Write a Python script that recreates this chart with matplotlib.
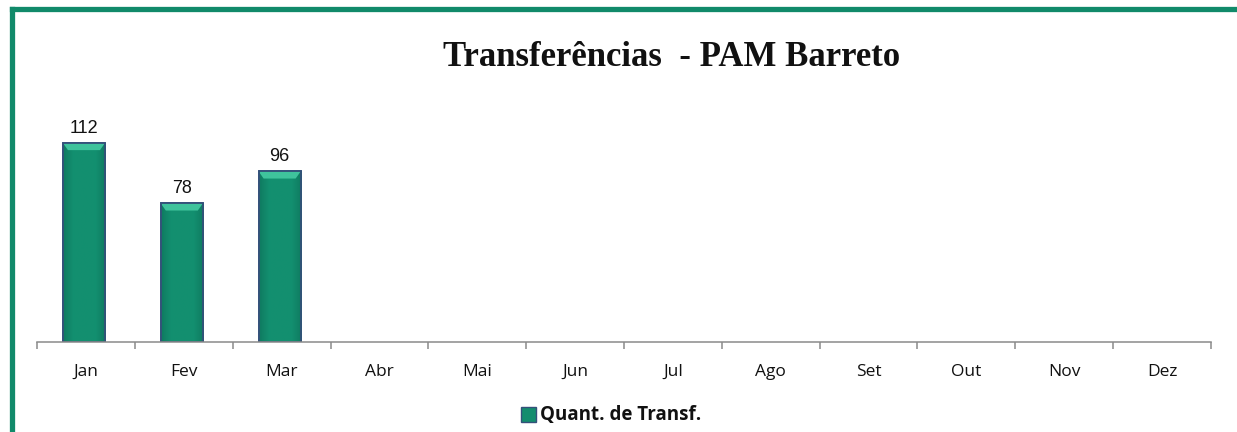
import matplotlib
matplotlib.use("Agg")
import matplotlib.pyplot as plt
import numpy as np
from matplotlib.lines import Line2D
from matplotlib.patches import Rectangle, Polygon
from matplotlib.colors import LinearSegmentedColormap

months = ["Jan", "Fev", "Mar", "Abr", "Mai", "Jun", "Jul", "Ago", "Set", "Out", "Nov", "Dez"]
values = [112, 78, 96]
series_name = "Quant. de Transf."
title = "Transferências  - PAM Barreto"

W, H = 1237, 432
fig = plt.figure(figsize=(W / 100, H / 100), dpi=100)
fig.patch.set_facecolor("white")

# frame (left and top green border)
green = "#118a6a"
fig.add_artist(Line2D([11.5 / W, 11.5 / W], [0, 1 - 8.5 / H], transform=fig.transFigure,
                      color=green, lw=3.8, solid_capstyle="projecting"))
fig.add_artist(Line2D([11.5 / W, 1], [1 - 8.5 / H, 1 - 8.5 / H], transform=fig.transFigure,
                      color=green, lw=3.8, solid_capstyle="projecting"))

ax = fig.add_axes([37 / W, 1 - 342 / H, (1211 - 37) / W, (342 - 128.8) / H])
ax.set_xlim(-0.5, 11.5)
ax.set_ylim(0, 120)

x = np.arange(len(values))
bars = ax.bar(x - 0.02, values, width=0.43, color="#128c6d", edgecolor="#34507a",
              linewidth=1.2, zorder=2, label=series_name)

grad = np.linspace(0, 1, 256).reshape(1, -1)
cmap = LinearSegmentedColormap.from_list("g", ["#0f7a60", "#139070", "#138f6f", "#139070", "#0f7a60"])
for b in bars:
    bx, by, bw, bh = b.get_x(), b.get_y(), b.get_width(), b.get_height()
    im = ax.imshow(grad, aspect="auto", cmap=cmap, extent=[bx, bx + bw, by, by + bh], zorder=2.1)
    im.set_clip_path(b)
    top = by + bh
    cap = Polygon([(bx, top), (bx + bw, top), (bx + bw * 0.88, top - 4.0), (bx + bw * 0.12, top - 4.0)],
                  closed=True, facecolor="#3fc39c", edgecolor="none", zorder=2.2)
    ax.add_patch(cap)
    ax.add_patch(Rectangle((bx, by), bw, bh, facecolor="none", edgecolor="#34507a",
                           linewidth=1.3, zorder=2.3))

for xi, v in zip(x, values):
    ax.text(xi - 0.02, v + 3.5, str(v), ha="center", va="bottom", fontsize=13,
            family="Liberation Sans", color="#111111")

for s in ["top", "right", "left"]:
    ax.spines[s].set_visible(False)
ax.spines["bottom"].set_color("#8a8a8a")
ax.spines["bottom"].set_linewidth(1.1)
ax.set_yticks([])
ax.set_xticks(np.arange(12))
ax.set_xticklabels(months, family="Open Sans", fontsize=12.5, color="#111111")
ax.tick_params(axis="x", which="major", length=0, pad=16)
ax.set_xticks(np.arange(-0.5, 12, 1), minor=True)
ax.tick_params(axis="x", which="minor", length=5, width=1.1, color="#8a8a8a")

fig.text(672 / W, 1 - 57 / H, title, ha="center", va="center", fontsize=25,
         family="Liberation Serif", weight="bold", color="#111111")

# legend
fig.patches.append(Rectangle((521 / W, 1 - 422 / H), 15 / W, 15 / H, transform=fig.transFigure,
                             facecolor="#138d6e", edgecolor="#34507a", linewidth=1.0))
fig.text(540 / W, 1 - 415 / H, series_name, ha="left", va="center", fontsize=13.5,
         family="Open Sans", weight="bold", color="#111111")

fig.savefig("out.png", dpi=100, facecolor="white")
